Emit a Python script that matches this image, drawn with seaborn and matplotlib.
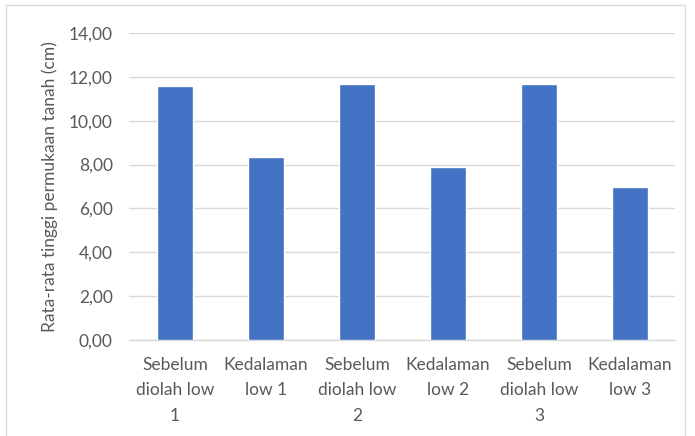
import matplotlib
matplotlib.use("Agg")
import matplotlib.pyplot as plt
import seaborn as sns
import pandas as pd
from matplotlib.patches import Rectangle
from matplotlib.ticker import FuncFormatter, MultipleLocator

categories = ["Sebelum\ndiolah low\n1", "Kedalaman\nlow 1",
              "Sebelum\ndiolah low\n2", "Kedalaman\nlow 2",
              "Sebelum\ndiolah low\n3", "Kedalaman\nlow 3"]
values = [11.58, 8.36, 11.67, 7.90, 11.66, 6.98]
ylabel = "Rata-rata tinggi permukaan tanah (cm)"

sns.set_theme(style="white")
plt.rcParams['font.family'] = ['Lato', 'DejaVu Sans']

df = pd.DataFrame({"cat": categories, "val": values})

fig = plt.figure(figsize=(6.95, 4.36), dpi=100)
ax = fig.add_axes([0.1863, 0.2202, 0.7856, 0.7041])
sns.barplot(data=df, x="cat", y="val", color="#4472C4", width=0.4,
            saturation=1, ax=ax, zorder=3)
ax.set_ylim(0, 14)
ax.set_xlim(-0.5, 5.5)
ax.yaxis.set_major_locator(MultipleLocator(2))
ax.yaxis.set_major_formatter(FuncFormatter(lambda v, p: f"{v:.2f}".replace(".", ",")))
ax.grid(axis="y", color="#D9D9D9", linewidth=1.0, zorder=0)
for s in ["top", "right", "left"]:
    ax.spines[s].set_visible(False)
ax.spines["bottom"].set_color("#D9D9D9")
ax.spines["bottom"].set_linewidth(1.0)
ax.tick_params(axis="both", length=0, colors="#595959", labelsize=12.5)
ax.tick_params(axis="y", pad=12)
ax.tick_params(axis="x", pad=12)
for lab in ax.get_xticklabels():
    lab.set_linespacing(1.75)
ax.set_xlabel("")
ax.set_ylabel(ylabel, color="#595959", fontsize=12.5, labelpad=8)

fig.patches.append(Rectangle((6 / 695, -0.02), 679 / 695, 1 - 5 / 436 + 0.02,
                             transform=fig.transFigure, fill=False,
                             edgecolor="#D9D9D9", linewidth=1.0))
fig.savefig("out.png", dpi=100)
